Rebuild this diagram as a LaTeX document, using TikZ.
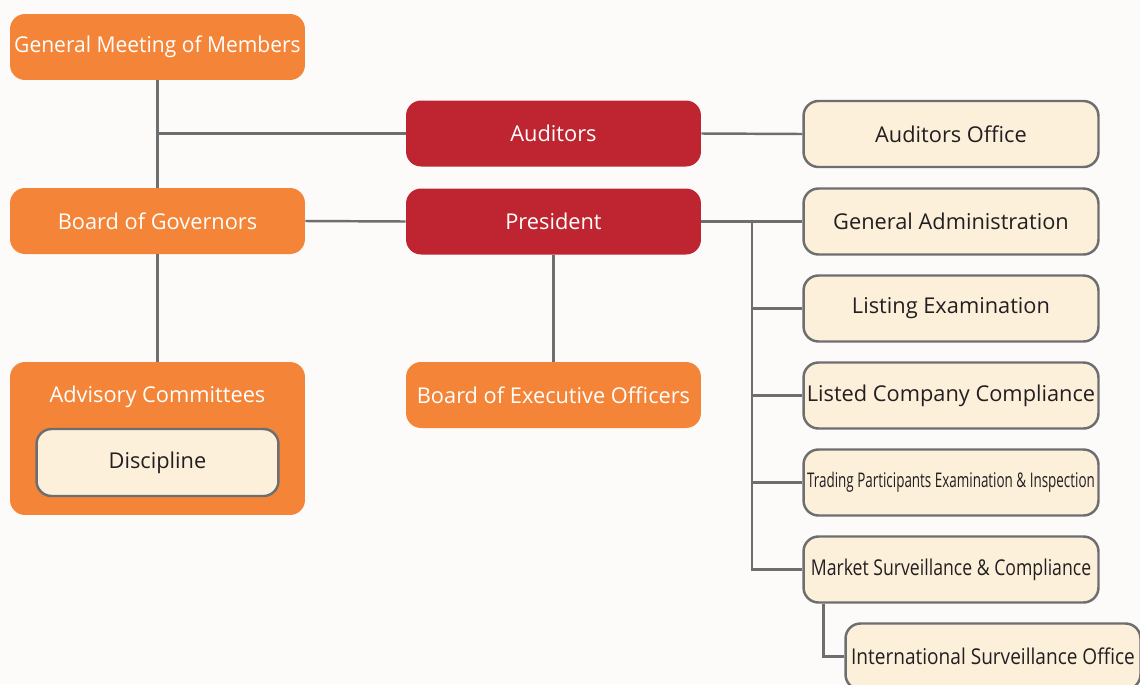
\documentclass[tikz,border=0pt]{standalone}
\usepackage{fontspec}
\usepackage{graphicx}
\setmainfont{Open Sans}

\definecolor{boxorange}{HTML}{F48538}
\definecolor{boxred}{HTML}{BE2530}
\definecolor{boxcream}{HTML}{FDF0DB}
\definecolor{linegray}{HTML}{6D6E70}
\definecolor{papercolor}{HTML}{FDFBF9}
\definecolor{inkcolor}{HTML}{231F20}

\tikzset{
  unitbox/.style={rounded corners=0.3cm, minimum width=5.9cm, minimum height=1.32cm,
    inner sep=0pt, font=\fontsize{12.4}{14}\selectfont},
  orangebox/.style={unitbox, fill=boxorange, text=white},
  redbox/.style={unitbox, fill=boxred, text=white},
  deptbox/.style={unitbox, fill=boxcream, draw=linegray, line width=1.4pt, text=inkcolor},
  link/.style={draw=linegray, line width=1.4pt},
}

\begin{document}
\begin{tikzpicture}[x=0.02cm, y=-0.02cm]
  \def \colone{157.5};
  \def \coltwo{553.5};
  \def \colthree{951};
  \def \busx{752};

  % Page background.
  \clip (0,0) rectangle (1140,684);
  \fill[papercolor] (0,0) rectangle (1140,684);

  % Draw the governing bodies on the left.
  \node[orangebox] (gm) at (\colone, 47) {\scalebox{0.965}[1]{General Meeting of Members}};
  \node[orangebox] (bog) at (\colone, 221) {Board of Governors};
  \node[orangebox, minimum height=3.06cm] (adv) at (\colone, 438.5) {};
  \node[font=\fontsize{12.4}{14}\selectfont, text=white] (advtitle) at (\colone, 397) {Advisory Committees};
  \node[deptbox, minimum width=4.84cm, minimum height=1.34cm] (disc) at (\colone, 462.5) {Discipline};

  % Draw the executive boxes in the middle.
  \node[redbox] (aud) at (\coltwo, 133.5) {Auditors};
  \node[redbox] (pres) at (\coltwo, 221.5) {President};
  \node[orangebox] (beo) at (\coltwo, 395) {Board of Executive Officers};

  % Draw the departments on the right.
  \node[deptbox] (audoff) at (\colthree, 134) {Auditors Office};
  \node[deptbox] (genadm) at (\colthree, 221.5) {General Administration};
  \node[deptbox] (listex) at (\colthree, 308.5) {Listing Examination};
  \node[deptbox] (lcc) at (\colthree, 395.5) {Listed Company Compliance};
  \node[deptbox] (tpei) at (\colthree, 482.5) {\scalebox{0.665}[1]{\fontsize{11.5}{13}\selectfont Trading Participants Examination \& Inspection}};
  \node[deptbox] (msc) at (\colthree, 569.5) {\scalebox{0.81}[1]{Market Surveillance \& Compliance}};
  \node[deptbox] (iso) at (993, 656.5) {\scalebox{0.875}[1]{International Surveillance Office}};

  % Draw the connectors.
  \coordinate (gmjoin) at (gm.south |- aud.west);
  \draw[link] (gm.south) -- (bog.north);
  \draw[link] (gmjoin) -- (aud.west);
  \draw[link] (bog.east) -- (pres.west);
  \draw[link] (bog.south) -- (adv.north);
  \draw[link] (pres.south) -- (beo.north);
  \draw[link] (aud.east) -- (audoff.west);
  \draw[link] (pres.east) -- (genadm.west);

  % Draw the department bus.
  \coordinate (bus) at (\busx, 221.5);
  \foreach \dept in {listex, lcc, tpei, msc} {
    \draw[link] (bus) |- (\dept.west);
  };
  \draw[link] ([xshift=0.42cm]msc.south west) |- (iso.west);
\end{tikzpicture}
\end{document}
